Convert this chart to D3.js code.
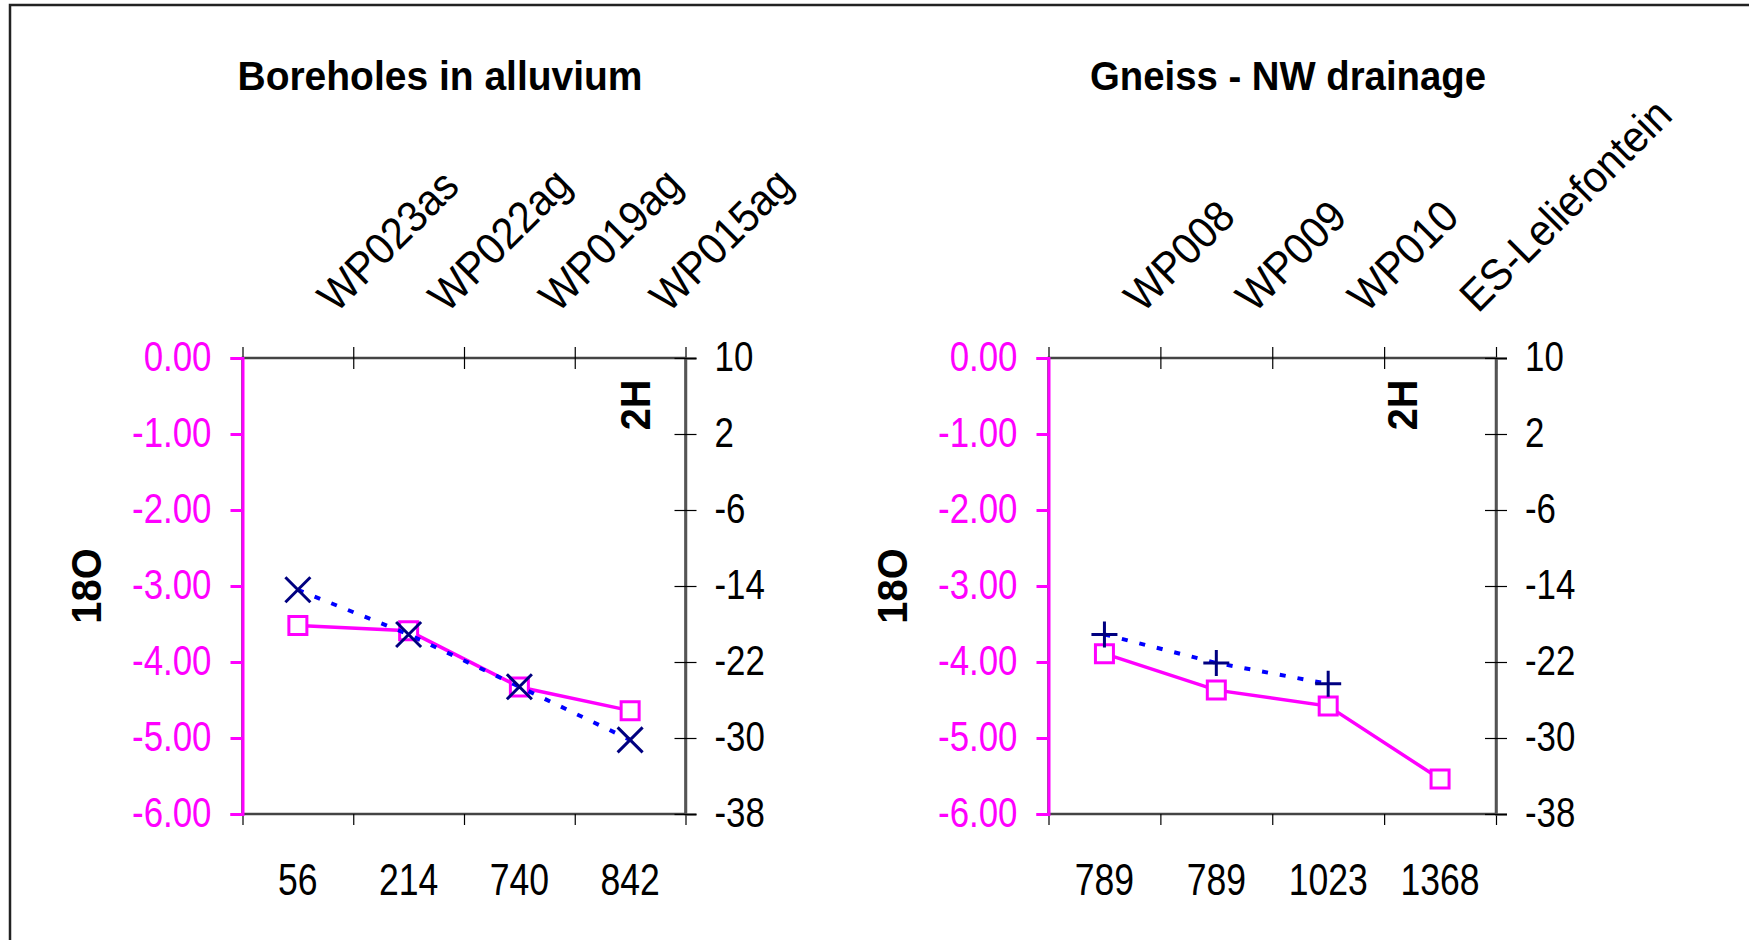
<!DOCTYPE html>
<html>
<head>
<meta charset="utf-8">
<script src="https://d3js.org/d3.v7.min.js"></script>
<style>
	body { margin: 0; background: #fff; }
	text { font-family: "Liberation Sans", Arial, sans-serif; }
</style>
</head>
<body>
<div id="container"></div>
<script>
// data
var borehole_sites = ["WP023as", "WP022ag", "WP019ag", "WP015ag"];
var borehole_alt = ["56", "214", "740", "842"];
var borehole_o18 = [-3.52, -3.59, -4.33, -4.64];
var borehole_h2 = [-14.4, -19.1, -24.6, -30.2];

var gneiss_sites = ["WP008", "WP009", "WP010", "ES-Leliefontein"];
var gneiss_alt = ["789", "789", "1023", "1368"];
var gneiss_o18 = [-3.89, -4.37, -4.58, -5.54];
var gneiss_h2 = [-19.1, -22.1, -24.3, null];

var o18_ticks = [0, -1, -2, -3, -4, -5, -6];
var h2_ticks = [10, 2, -6, -14, -22, -30, -38];

var pink = "#ff00ff",
	navy = "#000080",
	blue = "#0000ff";

var window_w = 1749,
	window_h = 940;

var svg = d3.select("#container")
	.append("svg")
	.attr("width", window_w)
	.attr("height", window_h);

// outer frame, runs off the right and bottom edges
svg.append("rect")
	.attr("x", 10)
	.attr("y", 5)
	.attr("width", 1800)
	.attr("height", 1000)
	.attr("fill", "none")
	.attr("stroke", "#222")
	.attr("stroke-width", 2.5);

// squeeze text horizontally (the original fonts look narrow)
function squeeze(sel, k) {
	sel.each(function () {
		var len = this.getComputedTextLength();
		d3.select(this)
			.attr("textLength", len * k)
			.attr("lengthAdjust", "spacingAndGlyphs");
	});
}

var symbolX = {
	draw: function (ctx, size) {
		var r = Math.sqrt(size) / 2;
		ctx.moveTo(-r, -r); ctx.lineTo(r, r);
		ctx.moveTo(-r, r); ctx.lineTo(r, -r);
	}
};
var symbolPlus = {
	draw: function (ctx, size) {
		var r = Math.sqrt(size) / 2;
		ctx.moveTo(-r, 0); ctx.lineTo(r, 0);
		ctx.moveTo(0, -r); ctx.lineTo(0, r);
	}
};

function panel(o) {
	var n = o.sites.length;
	var g = svg.append("g");

	// scales
	var x = d3.scaleLinear().domain([0, n]).range([o.left, o.right]);
	var y = d3.scaleLinear().domain([0, -6]).range([o.top, o.bottom]);
	var y2 = d3.scaleLinear().domain([10, -38]).range([o.top, o.bottom]);

	// title
	g.append("text")
		.attr("x", o.titleX)
		.attr("y", 90)
		.attr("text-anchor", "middle")
		.attr("font-size", 40)
		.attr("font-weight", "bold")
		.attr("textLength", o.titleLen)
		.attr("lengthAdjust", "spacingAndGlyphs")
		.text(o.title);

	// plot frame
	g.append("rect")
		.attr("x", o.left)
		.attr("y", o.top)
		.attr("width", o.right - o.left)
		.attr("height", o.bottom - o.top)
		.attr("fill", "none")
		.attr("stroke", "#444")
		.attr("stroke-width", 2.5);

	// top axis: ticks crossing the frame
	var top_axis = g.append("g")
		.attr("transform", "translate(0," + o.top + ")")
		.call(d3.axisTop(x).ticks(n).tickSize(11).tickFormat(""));
	top_axis.select(".domain").remove();
	top_axis.selectAll(".tick line").attr("y1", 11).attr("stroke", "#000").attr("stroke-width", 1.2);

	var bottom_axis = g.append("g")
		.attr("transform", "translate(0," + o.bottom + ")")
		.call(d3.axisBottom(x).ticks(n).tickSize(11).tickFormat(""));
	bottom_axis.select(".domain").remove();
	bottom_axis.selectAll(".tick line").attr("stroke", "#000").attr("stroke-width", 1.2);

	// site names, rotated
	var sites = g.selectAll(".site")
		.data(o.sites)
		.enter().append("text")
		.attr("class", "site")
		.attr("font-size", 44)
		.attr("transform", function (d, i) {
			return "translate(" + (x(i + 0.5) + 38) + ",314) rotate(-45)";
		})
		.text(function (d) { return d; });
	squeeze(sites, 0.93);

	// altitude labels under the plot
	var alt = g.selectAll(".alt")
		.data(o.alt)
		.enter().append("text")
		.attr("class", "alt")
		.attr("x", function (d, i) { return x(i + 0.5); })
		.attr("y", 895)
		.attr("text-anchor", "middle")
		.attr("font-size", 45)
		.text(function (d) { return d; });
	squeeze(alt, 0.79);

	// left axis, 18O
	var left_axis = g.append("g")
		.attr("transform", "translate(" + o.left + ",0)")
		.call(d3.axisLeft(y)
			.tickValues(o18_ticks)
			.tickSize(12)
			.tickPadding(19)
			.tickFormat(function (d) { return d.toFixed(2); }));
	left_axis.select(".domain").attr("stroke", pink).attr("stroke-width", 3);
	left_axis.selectAll(".tick line").attr("stroke", pink).attr("stroke-width", 3);
	var lt = left_axis.selectAll(".tick text")
		.attr("fill", pink)
		.attr("font-size", 42)
		.attr("dy", "0.3em")
		.attr("font-family", "Liberation Sans, Arial, sans-serif");
	squeeze(lt, 0.83);

	// right axis, 2H
	var right_axis = g.append("g")
		.attr("transform", "translate(" + o.right + ",0)")
		.call(d3.axisRight(y2)
			.tickValues(h2_ticks)
			.tickSize(11)
			.tickPadding(18)
			.tickFormat(function (d) { return String(d); }));
	right_axis.select(".domain").attr("stroke", "#555").attr("stroke-width", 2.5);
	right_axis.selectAll(".tick line").attr("x1", -11).attr("stroke", "#000").attr("stroke-width", 1.2);
	var rt = right_axis.selectAll(".tick text")
		.attr("fill", "#000")
		.attr("font-size", 42)
		.attr("dy", "0.3em")
		.attr("font-family", "Liberation Sans, Arial, sans-serif");
	squeeze(rt, 0.83);

	// axis titles
	var t18 = g.append("text")
		.attr("transform", "translate(" + (o.left - 142) + "," + ((o.top + o.bottom) / 2) + ") rotate(-90)")
		.attr("text-anchor", "middle")
		.attr("font-size", 42)
		.attr("font-weight", "bold")
		.text("18O");
	squeeze(t18, 0.95);

	var t2h = g.append("text")
		.attr("transform", "translate(" + o.h2x + ",405) rotate(-90)")
		.attr("text-anchor", "middle")
		.attr("font-size", 43)
		.attr("font-weight", "bold")
		.text("2H");
	squeeze(t2h, 0.92);

	// series
	var line_o18 = d3.line()
		.x(function (d, i) { return x(i + 0.5); })
		.y(function (d) { return y(d); });

	var line_h2 = d3.line()
		.defined(function (d) { return d != null; })
		.x(function (d, i) { return x(i + 0.5); })
		.y(function (d) { return y2(d); });

	g.append("path")
		.datum(o.o18)
		.attr("d", line_o18)
		.attr("fill", "none")
		.attr("stroke", pink)
		.attr("stroke-width", 3.5);

	g.selectAll(".sq")
		.data(o.o18)
		.enter().append("path")
		.attr("class", "sq")
		.attr("transform", function (d, i) { return "translate(" + x(i + 0.5) + "," + y(d) + ")"; })
		.attr("d", d3.symbol().type(d3.symbolSquare).size(18 * 18))
		.attr("fill", "#fff")
		.attr("stroke", pink)
		.attr("stroke-width", 3);

	g.append("path")
		.datum(o.h2)
		.attr("d", line_h2)
		.attr("fill", "none")
		.attr("stroke", blue)
		.attr("stroke-width", 4)
		.attr("stroke-dasharray", "6,12");

	g.selectAll(".mk")
		.data(o.h2.map(function (d, i) { return {v: d, i: i}; }).filter(function (d) { return d.v != null; }))
		.enter().append("path")
		.attr("class", "mk")
		.attr("transform", function (d) { return "translate(" + x(d.i + 0.5) + "," + y2(d.v) + ")"; })
		.attr("d", d3.symbol().type(o.marker).size(o.markerSize))
		.attr("fill", "none")
		.attr("stroke", navy)
		.attr("stroke-width", 3);
}

panel({
	title: "Boreholes in alluvium",
	titleX: 440,
	titleLen: 405,
	sites: borehole_sites,
	alt: borehole_alt,
	o18: borehole_o18,
	h2: borehole_h2,
	marker: symbolX,
	markerSize: 25 * 25,
	left: 242.5, right: 685.5, top: 358, bottom: 814,
	h2x: 650
});

panel({
	title: "Gneiss - NW drainage",
	titleX: 1288,
	titleLen: 396,
	sites: gneiss_sites,
	alt: gneiss_alt,
	o18: gneiss_o18,
	h2: gneiss_h2,
	marker: symbolPlus,
	markerSize: 26 * 26,
	left: 1048.5, right: 1496, top: 358, bottom: 814,
	h2x: 1417
});
</script>
</body>
</html>
